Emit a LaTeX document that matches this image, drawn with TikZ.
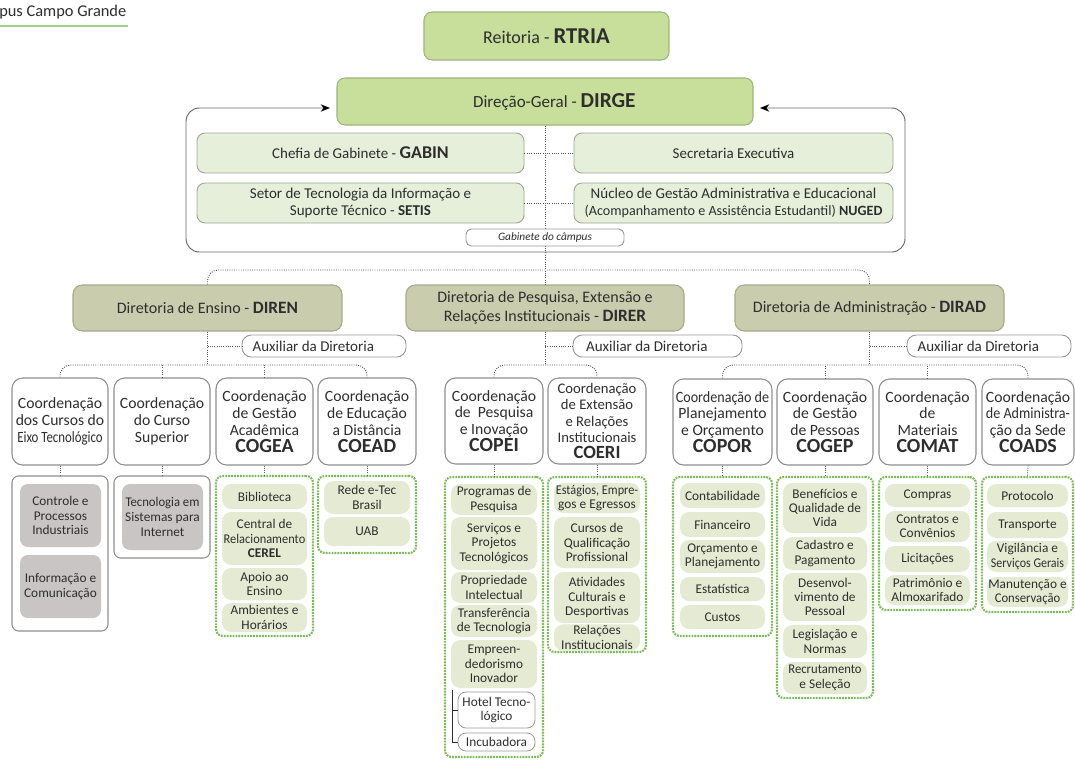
\documentclass[tikz,border=0pt]{standalone}
\usepackage{fontspec}
\usepackage{graphicx}
\setmainfont{Carlito}
\usetikzlibrary{arrows.meta}
\definecolor{topg}{HTML}{C7DF9A}
\definecolor{topb}{HTML}{9DB57A}
\definecolor{gabg}{HTML}{E5EFDA}
\definecolor{gabb}{HTML}{9CA892}
\definecolor{dirg}{HTML}{C9CDAE}
\definecolor{dirb}{HTML}{A5AA8C}
\definecolor{auxb}{HTML}{9A9A9A}
\definecolor{coordb}{HTML}{8E8E8E}
\definecolor{contg}{HTML}{7DBA58}
\definecolor{itemg}{HTML}{E5EBD2}
\definecolor{grayi}{HTML}{C9C5C5}
\definecolor{txt}{HTML}{2E2E2E}
\definecolor{lnkc}{HTML}{555555}
\newcommand{\fs}[2]{\fontsize{#1}{#2}\selectfont}
\newcommand{\cod}[1]{{\fontsize{15}{12.6}\selectfont\bfseries #1}}
\newcommand{\bigb}[2]{{\fontsize{#1}{#1}\selectfont\bfseries #2}}
\tikzset{
  R4/.style n args={4}{at={({(#1+#3)/2},{(#2+#4)/2})},
    minimum width={(#3-#1)*0.75pt}, minimum height={(#4-#2)*0.75pt},
    inner sep=1pt, align=center, anchor=center, text=txt},
  topbox/.style={fill=topg, draw=topb, line width=0.8pt, rounded corners=6pt},
  gabbox/.style={fill=gabg, draw=gabb, line width=0.7pt, rounded corners=6pt, font=\fs{11.25}{13}},
  dirbox/.style={fill=dirg, draw=dirb, line width=0.8pt, rounded corners=7pt, font=\fs{12}{14}},
  auxbox/.style={fill=white, draw=auxb, line width=0.7pt, rounded corners=7pt, font=\fs{11.25}{13}},
  coordbox/.style={fill=white, draw=coordb, line width=0.8pt, rounded corners=8pt, font=\fs{11.75}{12.6}},
  contbox/.style={fill=white, draw=contg, line width=1.6pt, dash pattern=on 1.4pt off 0.8pt, rounded corners=5pt},
  wcontbox/.style={fill=white, draw=coordb, line width=0.8pt, rounded corners=5pt},
  itembox/.style={fill=itemg, rounded corners=7pt, font=\fs{10}{10.8}},
  grayitem/.style={fill=grayi, rounded corners=6pt, font=\fs{10}{11}},
  wsub/.style={fill=white, draw=auxb, line width=0.6pt, rounded corners=6pt, font=\fs{10}{10.8}, align=left},
  lnk/.style={draw=lnkc, densely dotted, line width=0.7pt},
  loopln/.style={draw=gray!80!black, line width=0.7pt, rounded corners=10pt},
  brk/.style={draw=txt, line width=0.7pt},
}
\begin{document}
\begin{tikzpicture}[x=0.75pt,y=-0.75pt]
\useasboundingbox (0,0) rectangle (1075,760);
\fill[white] (0,0) rectangle (1075,760);

% header text
\node[anchor=west, inner sep=0pt, text=txt, font=\fs{12.3}{14}] (hdr) at (-1,12) {pus Campo Grande};
\draw[draw=contg!70, line width=1pt] (hdr.south west |- 0,26) coordinate (hl) -- (128,26) coordinate (hr);

% top
\node[topbox, R4={424}{12}{669}{60}, font=\fs{13.5}{16}] (reit) {Reitoria - \bigb{17}{RTRIA}};
\coordinate (la) at (330,108);
\coordinate (ra) at (760,108);
\coordinate (lb) at (186,252);
\coordinate (rt) at (905,108);
\draw[loopln, {Stealth[length=7pt,width=5.5pt,color=black,fill=black]}-{Stealth[length=7pt,width=5.5pt,color=black,fill=black]}] (la) -| (lb) -| (rt) -- (ra);
\node[topbox, R4={337}{78}{753}{125}, font=\fs{12.75}{16}] (dirge) {\hspace{14pt}Direção-Geral - \bigb{16}{DIRGE}};

\node[gabbox, R4={197}{133}{524}{173}] (chefia) {Chefia de Gabinete - \bigb{13.5}{GABIN}};
\node[gabbox, R4={574}{133}{893}{173}] (secr) {Secretaria Executiva};
\node[gabbox, R4={197}{183}{524}{223}] (setis) {Setor de Tecnologia da Informação e\\Suporte Técnico - \textbf{SETIS}};
\node[gabbox, R4={574}{183}{893}{223}] (nuged) {Núcleo de Gestão Administrativa e Educacional\\{\fs{10.6}{13}(Acompanhamento e Assistência Estudantil) \textbf{NUGED}}};

% directors
\node[dirbox, R4={73}{285}{342}{331}] (diren) {Diretoria de Ensino - \bigb{13}{DIREN}};
\node[dirbox, R4={406}{285}{684}{331}] (direr) {Diretoria de Pesquisa, Extensão e\\Relações Institucionais - \bigb{13}{DIRER}};
\node[dirbox, R4={735}{285}{1004}{331}] (dirad) {Diretoria de Administração - \bigb{13}{DIRAD}};

\coordinate (jy) at (0,270);
\coordinate (cy) at (0,365);
\draw[lnk] (dirge.south) -- (direr.north);
\draw[lnk] (chefia.east) -- (secr.west);
\draw[lnk] (setis.east) -- (nuged.west);
\draw[lnk, rounded corners=8pt] (diren.north) |- (dirad.north |- jy) -- (dirad.north);

\node[auxbox, R4={466}{229}{624}{246}, font=\fs{8.5}{10}\itshape, rounded corners=4pt] (gab) {Gabinete do câmpus};

% auxiliars
\node[auxbox, R4={242}{335}{406}{357}] (a1) {Auxiliar da Diretoria\hspace{16pt}};
\node[auxbox, R4={573}{335}{742}{357}] (a2) {Auxiliar da Diretoria\hspace{16pt}};
\node[auxbox, R4={907}{335}{1071}{357}] (a3) {Auxiliar da Diretoria\hspace{16pt}};

% coordinations
\node[coordbox, R4={12}{378}{108}{465}] (k1) {Coordenação\\dos Cursos do\\\scalebox{0.82}[1]{Eixo Tecnológico}};
\node[coordbox, R4={114}{378}{210}{465}] (k2) {Coordenação\\do Curso\\Superior};
\node[coordbox, R4={216}{378}{313}{465}] (k3) {Coordenação\\de Gestão\\Acadêmica\\\cod{COGEA}};
\node[coordbox, R4={318}{378}{416}{465}] (k4) {Coordenação\\de Educação\\a Distância\\\cod{COEAD}};
\node[coordbox, R4={445}{378}{543}{464}] (k5) {Coordenação\\de\ \ Pesquisa\\e Inovação\\\cod{COPEI}};
\node[coordbox, R4={548}{378}{646}{464}, font=\fs{11}{12.1}] (k6) {Coordenação\\de Extensão\\e Relações\\Institucionais\\{\fontsize{14}{12.1}\selectfont\bfseries COERI}};
\node[coordbox, R4={673}{379}{772}{465}] (k7) {\scalebox{0.9}[1]{Coordenação de}\\Planejamento\\e Orçamento\\\cod{COPOR}};
\node[coordbox, R4={777}{379}{873}{465}] (k8) {Coordenação\\de Gestão\\de Pessoas\\\cod{COGEP}};
\node[coordbox, R4={879}{379}{976}{465}] (k9) {Coordenação\\de\\Materiais\\\cod{COMAT}};
\node[coordbox, R4={982}{379}{1074}{465}] (k10) {Coordenação\\\scalebox{0.9}[1]{de Administra-}\\ção da Sede\\\cod{COADS}};

% director -> auxiliar / coordinations
\draw[lnk] (diren.south) -- (diren.south |- cy);
\draw[lnk] (diren.south |- a1.west) -- (a1.west);
\draw[lnk, rounded corners=8pt] (k1.north) |- (k4.north |- cy) -- (k4.north);
\draw[lnk] (k2.north) -- (k2.north |- cy);
\draw[lnk] (k3.north) -- (k3.north |- cy);

\draw[lnk] (direr.south) -- (direr.south |- cy);
\draw[lnk] (direr.south |- a2.west) -- (a2.west);
\draw[lnk, rounded corners=8pt] (k5.north) |- (k6.north |- cy) -- (k6.north);

\draw[lnk] (dirad.south) -- (dirad.south |- cy);
\draw[lnk] (dirad.south |- a3.west) -- (a3.west);
\draw[lnk, rounded corners=8pt] (k7.north) |- (k10.north |- cy) -- (k10.north);
\draw[lnk] (k8.north) -- (k8.north |- cy);
\draw[lnk] (k9.north) -- (k9.north |- cy);

% containers
\node[wcontbox, R4={12}{476}{108}{631}] (c1) {};
\node[wcontbox, R4={114}{476}{210}{558}] (c2) {};
\node[contbox, R4={216}{476}{313}{636}] (c3) {};
\node[contbox, R4={318}{476}{416}{553}] (c4) {};
\node[contbox, R4={445}{477}{543}{757}] (c5) {};
\node[contbox, R4={548}{477}{646}{652}] (c6) {};
\node[contbox, R4={673}{477}{772}{636}] (c7) {};
\node[contbox, R4={777}{477}{873}{698}] (c8) {};
\node[contbox, R4={879}{477}{976}{610}] (c9) {};
\node[contbox, R4={982}{477}{1073}{612}] (c10) {};

\foreach \i in {1,...,10} {\draw[lnk] (k\i.south) -- (c\i.north);}

% col 1-2
\node[grayitem, R4={20}{484}{101}{547}] (g1) {Controle e\\Processos\\Industriais};
\node[grayitem, R4={20}{555}{101}{618}] (g2) {Informação e\\Comunicação};
\node[grayitem, R4={122}{484}{203}{550}] (g3) {\scalebox{0.95}[1]{Tecnologia em}\\Sistemas para\\Internet};

% COGEA
\node[itembox, R4={222}{484}{307}{509}] (i31) {Biblioteca};
\node[itembox, R4={222}{512}{307}{565}] (i32) {Central de\\\scalebox{0.93}[1]{Relacionamento}\\\textbf{CEREL}};
\node[itembox, R4={222}{568}{307}{600}] (i33) {Apoio ao\\Ensino};
\node[itembox, R4={222}{603}{307}{632}] (i34) {Ambientes e\\Horários};

% COEAD
\node[itembox, R4={324}{481}{410}{514}] (i41) {Rede e-Tec\\Brasil};
\node[itembox, R4={324}{517}{410}{546}] (i42) {UAB};

% COPEI
\node[itembox, R4={451}{484}{537}{515}] (i51) {Programas de\\Pesquisa};
\node[itembox, R4={451}{517}{537}{570}] (i52) {Serviços e\\Projetos\\Tecnológicos};
\node[itembox, R4={451}{572}{537}{603}] (i53) {Propriedade\\Intelectual};
\node[itembox, R4={451}{605}{537}{637}] (i54) {Transferência\\de Tecnologia};
\node[itembox, R4={451}{640}{537}{688}] (i55) {Empreen-\\dedorismo\\Inovador};
\node[wsub, R4={458}{692}{535}{728}] (hotel) {Hotel Tecno-\\lógico};
\node[wsub, R4={458}{733}{535}{751}] (incub) {Incubadora};
\coordinate (bk) at (452,690);
\draw[brk] (bk) |- (incub.west);
\draw[brk] (bk |- hotel.west) -- (hotel.west);

% COERI
\node[itembox, R4={554}{483}{640}{513}] (i61) {\scalebox{0.92}[1]{Estágios, Empre-}\\gos e Egressos};
\node[itembox, R4={554}{517}{640}{568}] (i62) {Cursos de\\Qualificação\\Profissional};
\node[itembox, R4={554}{572}{640}{623}] (i63) {Atividades\\Culturais e\\Desportivas};
\node[itembox, R4={554}{627}{640}{648}] (i64) {Relações\\Institucionais};

% COPOR
\node[itembox, R4={680}{483}{765}{508}] (i71) {Contabilidade};
\node[itembox, R4={680}{512}{765}{537}] (i72) {Financeiro};
\node[itembox, R4={680}{540}{765}{573}] (i73) {Orçamento e\\Planejamento};
\node[itembox, R4={680}{577}{765}{601}] (i74) {Estatística};
\node[itembox, R4={680}{605}{765}{629}] (i75) {Custos};

% COGEP
\node[itembox, R4={783}{483}{867}{533}] (i81) {Benefícios e\\Qualidade de\\Vida};
\node[itembox, R4={783}{537}{867}{570}] (i82) {Cadastro e\\Pagamento};
\node[itembox, R4={783}{573}{867}{621}] (i83) {Desenvol-\\vimento de\\Pessoal};
\node[itembox, R4={783}{625}{867}{658}] (i84) {Legislação e\\Normas};
\node[itembox, R4={783}{662}{867}{694}] (i85) {\scalebox{0.95}[1]{Recrutamento}\\e Seleção};

% COMAT
\node[itembox, R4={885}{484}{970}{507}] (i91) {Compras};
\node[itembox, R4={885}{511}{970}{542}] (i92) {Contratos e\\Convênios};
\node[itembox, R4={885}{546}{970}{572}] (i93) {Licitações};
\node[itembox, R4={885}{575}{970}{605}] (i94) {Patrimônio e\\Almoxarifado};

% COADS
\node[itembox, R4={987}{484}{1068}{507}] (i101) {Protocolo};
\node[itembox, R4={987}{512}{1068}{538}] (i102) {Transporte};
\node[itembox, R4={987}{541}{1068}{572}] (i103) {Vigilância e\\\scalebox{0.9}[1]{Serviços Gerais}};
\node[itembox, R4={987}{577}{1068}{607}] (i104) {Manutenção e\\\scalebox{0.95}[1]{Conservação}};
\end{tikzpicture}
\end{document}
